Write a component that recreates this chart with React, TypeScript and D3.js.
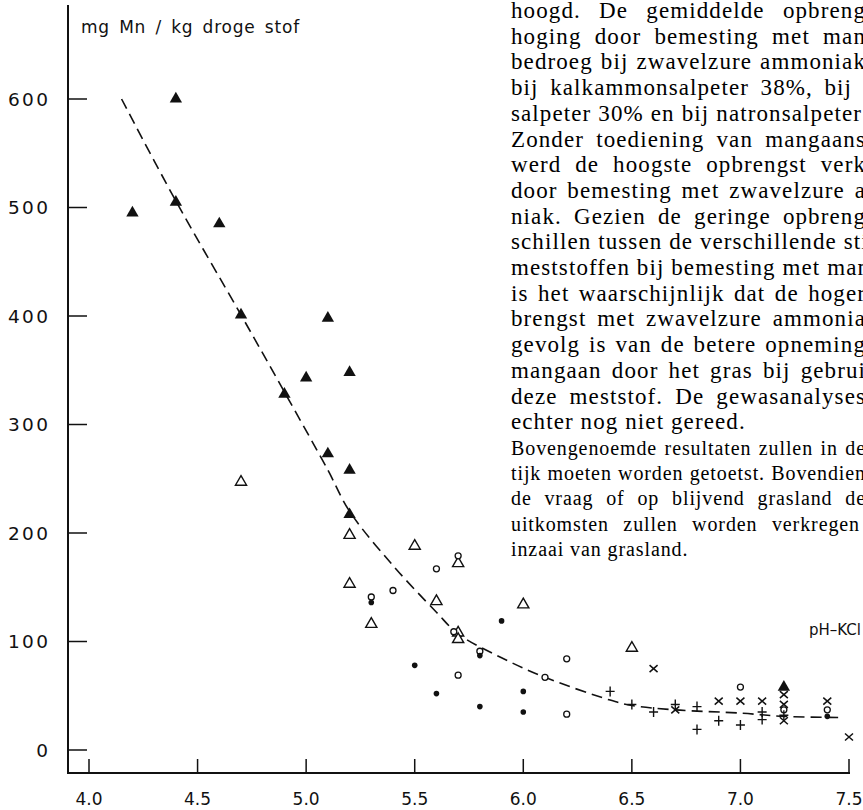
import React, { useEffect, useRef } from 'react';
import * as d3 from 'd3';

// pH-KCl on x, mg Mn / kg droge stof on y
const xTicks = [4.0, 4.5, 5.0, 5.5, 6.0, 6.5, 7.0, 7.5];
const yTicks = [0, 100, 200, 300, 400, 500, 600];

const filledTriangles = [
  [4.2, 495], [4.4, 600], [4.4, 505], [4.6, 485], [4.7, 401], [4.9, 328],
  [5.0, 343], [5.1, 398], [5.1, 273], [5.2, 348], [5.2, 258], [5.2, 217], [7.2, 58],
];
const openTriangles = [
  [4.7, 247], [5.2, 198], [5.2, 153], [5.3, 116], [5.5, 188], [5.6, 137],
  [5.7, 172], [5.7, 108], [5.7, 102], [6.0, 134], [6.5, 94],
];
const openCircles = [
  [5.3, 141], [5.4, 147], [5.6, 167], [5.7, 179], [5.68, 109], [5.7, 69],
  [5.8, 91], [6.1, 67], [6.2, 84], [6.2, 33], [7.0, 58], [7.2, 37], [7.4, 37],
];
const filledCircles = [
  [5.3, 136], [5.5, 78], [5.6, 52], [5.8, 87], [5.8, 40], [5.9, 119],
  [6.0, 54], [6.0, 35], [7.4, 31],
];
const pluses = [
  [6.4, 54], [6.5, 42], [6.6, 35], [6.7, 42], [6.8, 40], [6.8, 19],
  [6.9, 27], [7.0, 23], [7.1, 35], [7.1, 28], [7.2, 32],
];
const crosses = [
  [6.6, 75], [6.7, 37], [6.9, 45], [7.0, 45], [7.1, 45], [7.2, 51],
  [7.2, 42], [7.2, 27], [7.4, 45], [7.5, 12],
];
const trend = [
  [4.15, 600], [4.4, 506], [4.7, 401], [4.9, 330], [5.1, 258], [5.2, 220],
  [5.4, 170], [5.6, 127], [5.7, 107], [5.9, 85], [6.1, 67], [6.4, 46],
  [6.5, 41], [6.7, 37], [7.0, 34], [7.2, 31], [7.45, 30],
];

const bodyLines = [
  'hoogd. De gemiddelde opbreng',
  'hoging door bemesting met man',
  'bedroeg bij zwavelzure ammoniak',
  'bij kalkammonsalpeter 38%, bij',
  'salpeter 30% en bij natronsalpeter',
  'Zonder toediening van mangaans',
  'werd de hoogste opbrengst verk',
  'door bemesting met zwavelzure a',
  'niak. Gezien de geringe opbreng',
  'schillen tussen de verschillende sti',
  'meststoffen bij bemesting met man',
  'is het waarschijnlijk dat de hoger',
  'brengst met zwavelzure ammonia',
  'gevolg is van de betere opneming',
  'mangaan door het gras bij gebrui',
  'deze meststof. De gewasanalyses',
  'echter nog niet gereed.',
];
const noteLines = [
  'Bovengenoemde resultaten zullen in de',
  'tijk moeten worden getoetst. Bovendien',
  'de vraag of op blijvend grasland de',
  'uitkomsten zullen worden verkregen',
  'inzaai van grasland.',
];
// right end of each visible line (0 = natural width)
const bodyEnds = [866, 866, 866, 852, 862, 866, 866, 866, 866, 866, 866, 866, 866, 866, 866, 866, 0];
const noteEnds = [866, 866, 866, 860, 0];

const W = 863;
const H = 810;
const sans = '"DejaVu Sans", sans-serif';
const serif = '"Liberation Serif", serif';
const TX = 511;

export default function App() {
  const svgRef = useRef<SVGSVGElement>(null);

  useEffect(() => {
    document.body.style.margin = '0';
    const justify = () => {
      d3.select(svgRef.current)
        .selectAll<SVGTextElement, unknown>('text.justify')
        .each(function () {
          const el = this;
          const end = +(el.getAttribute('data-end') || 0);
          el.style.wordSpacing = '0px';
          const natural = el.getComputedTextLength();
          const spaces = ((el.textContent || '').match(/ /g) || []).length;
          if (spaces > 0) el.style.wordSpacing = `${Math.max(0, (end - TX - natural) / spaces)}px`;
        });
    };
    justify();
    if ((document as any).fonts) (document as any).fonts.ready.then(justify);
  }, []);

  const x = d3.scaleLinear().domain([4, 7.5]).range([89, 849]);
  const y = d3.scaleLinear().domain([0, 600]).range([750, 99]);

  const trendPath = d3
    .line<number[]>()
    .x((d) => x(d[0]))
    .y((d) => y(d[1]))
    .curve(d3.curveCatmullRom.alpha(0.5))(trend);

  const triFilled = d3.symbol().type(d3.symbolTriangle).size(66)() || '';
  const triOpen = d3.symbol().type(d3.symbolTriangle).size(54)() || '';

  const plusPath = d3.path();
  plusPath.moveTo(-4.5, 0);
  plusPath.lineTo(4.5, 0);
  plusPath.moveTo(0, -5);
  plusPath.lineTo(0, 5);

  const crossPath = d3.path();
  crossPath.moveTo(-4, -3.5);
  crossPath.lineTo(4, 3.5);
  crossPath.moveTo(-4, 3.5);
  crossPath.lineTo(4, -3.5);

  const bodyStep = 25.7;
  const noteStep = 25.4;

  return (
    <svg ref={svgRef} width={W} height={H} style={{ display: 'block', background: '#fff' }}>
      {/* axes */}
      <line x1={68} x2={68} y1={5} y2={774} stroke="#111" strokeWidth={2} />
      <line x1={67} x2={850} y1={773} y2={773} stroke="#111" strokeWidth={2} />
      {yTicks.map((t) => (
        <g key={`y${t}`}>
          <line x1={68} x2={87} y1={y(t)} y2={y(t)} stroke="#111" strokeWidth={1.5} />
          <text
            x={48}
            y={y(t) + 6.5}
            textAnchor="end"
            fontFamily={sans}
            fontSize={18.5}
            fill="#111"
            textLength={String(t).length > 1 ? 40 : undefined}
            lengthAdjust="spacing"
          >
            {t}
          </text>
        </g>
      ))}
      {xTicks.map((t) => (
        <g key={`x${t}`}>
          <line x1={x(t)} x2={x(t)} y1={759} y2={773} stroke="#111" strokeWidth={1.5} />
          <text x={x(t)} y={805} textAnchor="middle" fontFamily={sans} fontSize={17} fill="#111">
            {t.toFixed(1)}
          </text>
        </g>
      ))}
      <text
        x={81}
        y={33}
        fontFamily={sans}
        fontSize={17}
        fill="#111"
        style={{ wordSpacing: '3px', letterSpacing: '0.8px' }}
      >
        mg Mn / kg droge stof
      </text>
      <text x={809} y={635} fontFamily={sans} fontSize={15} fill="#111">
        pH–KCl
      </text>

      {/* trend line */}
      <path d={trendPath || ''} fill="none" stroke="#111" strokeWidth={1.6} strokeDasharray="11 6" />

      {/* markers */}
      {filledTriangles.map((d, i) => (
        <path key={`ft${i}`} d={triFilled} transform={`translate(${x(d[0])},${y(d[1])})`} fill="#111" />
      ))}
      {openTriangles.map((d, i) => (
        <path
          key={`ot${i}`}
          d={triOpen}
          transform={`translate(${x(d[0])},${y(d[1])})`}
          fill="#fff"
          stroke="#111"
          strokeWidth={1.4}
        />
      ))}
      {openCircles.map((d, i) => (
        <circle key={`oc${i}`} cx={x(d[0])} cy={y(d[1])} r={3} fill="#fff" stroke="#111" strokeWidth={1.3} />
      ))}
      {filledCircles.map((d, i) => (
        <circle key={`fc${i}`} cx={x(d[0])} cy={y(d[1])} r={2.8} fill="#111" />
      ))}
      {pluses.map((d, i) => (
        <path
          key={`p${i}`}
          d={plusPath.toString()}
          transform={`translate(${x(d[0])},${y(d[1])})`}
          stroke="#111"
          strokeWidth={1.4}
          fill="none"
        />
      ))}
      {crosses.map((d, i) => (
        <path
          key={`c${i}`}
          d={crossPath.toString()}
          transform={`translate(${x(d[0])},${y(d[1])})`}
          stroke="#111"
          strokeWidth={1.5}
          fill="none"
        />
      ))}

      {/* running text beside the figure */}
      {bodyLines.map((s, i) => (
        <text
          key={`b${i}`}
          className={bodyEnds[i] ? 'justify' : undefined}
          data-end={bodyEnds[i] || undefined}
          x={TX}
          y={18 + i * bodyStep}
          fontFamily={serif}
          fontSize={23}
          fill="#000"
          style={{ letterSpacing: '1.1px' }}
        >
          {s}
        </text>
      ))}
      {noteLines.map((s, i) => (
        <text
          key={`n${i}`}
          className={noteEnds[i] ? 'justify' : undefined}
          data-end={noteEnds[i] || undefined}
          x={TX}
          y={18 + 16 * bodyStep + (i + 1) * noteStep}
          fontFamily={serif}
          fontSize={20}
          fill="#000"
          style={{ letterSpacing: '0.9px' }}
        >
          {s}
        </text>
      ))}
    </svg>
  );
}
